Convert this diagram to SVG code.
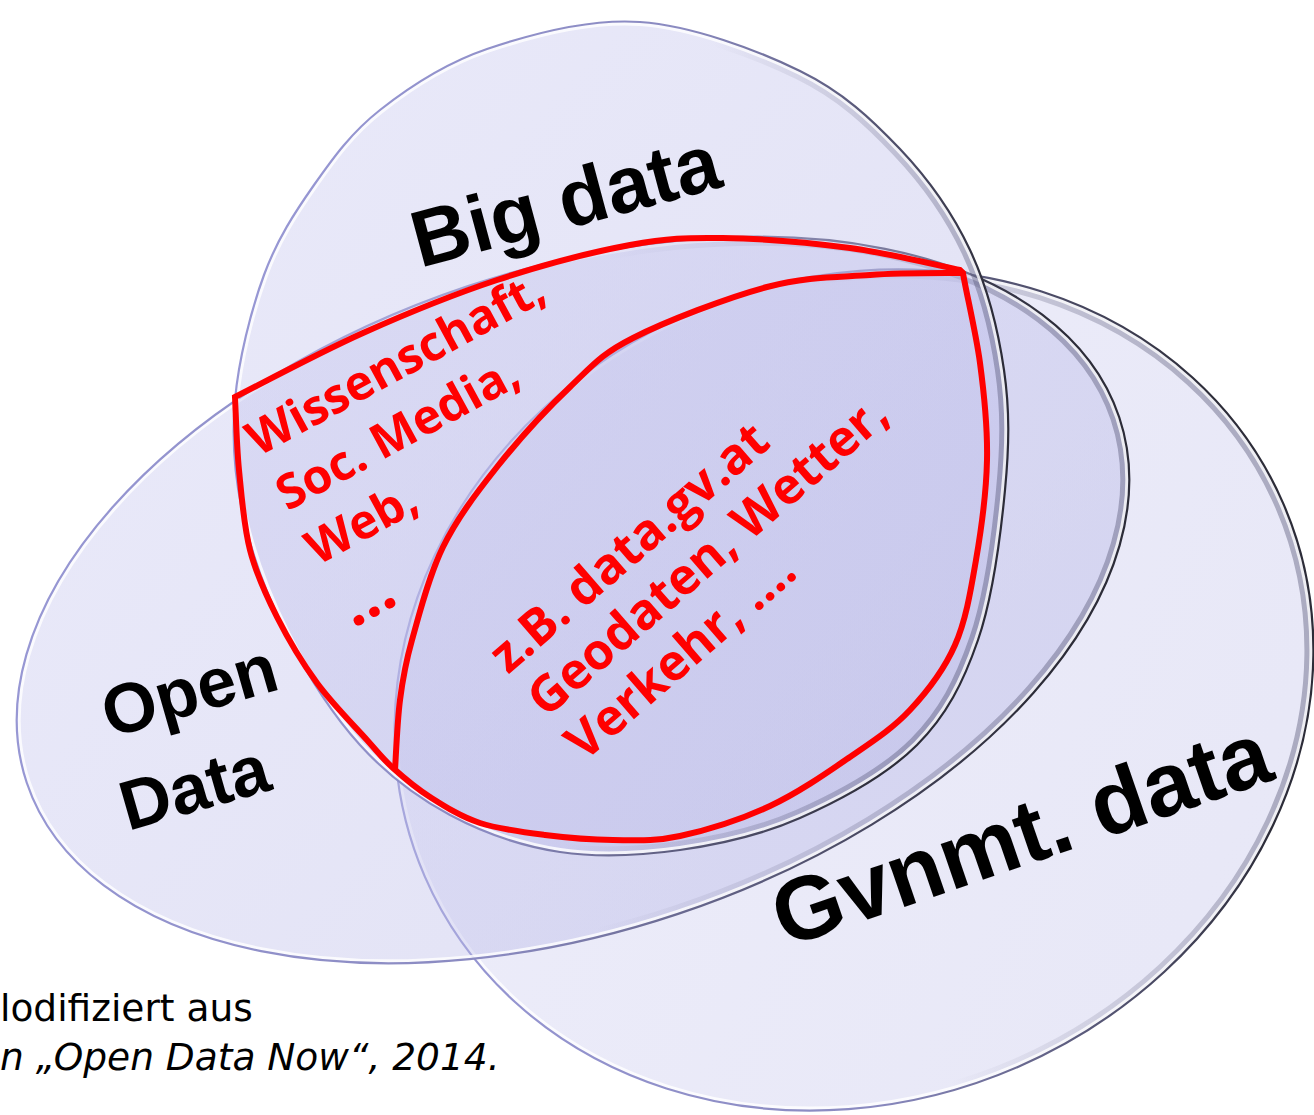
<svg xmlns="http://www.w3.org/2000/svg" xmlns:xlink="http://www.w3.org/1999/xlink" width="1314" height="1115" viewBox="0 0 1314 1115">
<defs>
<style>
.lens{stroke:none}
.rim{fill:none;stroke:url(#rimGrad);stroke-width:2.2}
.hl{fill:none;stroke:#ffffff;stroke-opacity:.8;stroke-width:8}
.shade{fill:none;stroke:url(#shadeGrad);stroke-width:18}
.lbl{font-family:"Liberation Sans",Arial,sans-serif;font-weight:bold;fill:#000}
.red{font-family:"Open Sans","Noto Sans",sans-serif;font-weight:700;fill:#ff0000}
.redline{fill:none;stroke:#ff0000;stroke-width:6;stroke-linejoin:miter;stroke-miterlimit:10}
.cap{font-family:"DejaVu Sans",sans-serif;font-size:37.5px;fill:#000}
</style>
<linearGradient id="fillGrad" x1="0" y1="0" x2="1" y2="1">
<stop offset="0" stop-color="#c8c8f0"/>
<stop offset="1" stop-color="#b4b4e4"/>
</linearGradient>
<linearGradient id="rimGrad" x1="0" y1="0" x2="1" y2="0.25">
<stop offset="0" stop-color="#9a9ad8"/>
<stop offset="0.55" stop-color="#8a8ac0"/>
<stop offset="1" stop-color="#2c2c38"/>
</linearGradient>
<linearGradient id="shadeGrad" x1="0" y1="0" x2="1" y2="0.2">
<stop offset="0" stop-color="#505070" stop-opacity="0"/>
<stop offset="0.6" stop-color="#505070" stop-opacity="0"/>
<stop offset="1" stop-color="#505070" stop-opacity="0.4"/>
</linearGradient>
<path id="bigShape" d="M640,22 C692.2,25.7 756.7,49.8 800,71 C843.3,92.2 871.7,119.2 900,149 C928.3,178.8 952.7,213.2 970,250 C987.3,286.8 998.2,330 1004,370 C1009.8,410 1009.3,445 1005,490 C1000.7,535 992.7,597.5 978,640 C963.3,682.5 946.7,715.3 917,745 C887.3,774.7 839.5,800.5 800,818 C760.5,835.5 720,844.3 680,850 C640,855.7 598.3,857.8 560,852 C521.7,846.2 483.3,832.8 450,815 C416.7,797.2 387.2,775 360,745 C332.8,715 306.5,673.3 287,635 C267.5,596.7 251.7,554.2 243,515 C234.3,475.8 231.5,440 235,400 C238.5,360 250.8,310.8 264,275 C277.2,239.2 294.7,212.5 314,185 C333.3,157.5 351.2,132.7 380,110 C408.8,87.3 443.7,63.7 487,49 C530.3,34.3 587.8,18.3 640,22 Z"/>
<ellipse id="openShape" cx="573" cy="600" rx="576" ry="331" transform="rotate(-18.5 573 600)"/>
<ellipse id="govShape" cx="854" cy="690" rx="468" ry="411" transform="rotate(-23.5 854 690)"/>
<clipPath id="clipBig"><use xlink:href="#bigShape"/></clipPath>
<clipPath id="clipOpen"><use xlink:href="#openShape"/></clipPath>
<clipPath id="clipGov"><use xlink:href="#govShape"/></clipPath>
</defs>
<rect width="1314" height="1115" fill="#ffffff"/>

<g id="node-gvnmt-data">
<use xlink:href="#govShape" class="lens" fill="url(#fillGrad)" fill-opacity="0.32"/>
<use xlink:href="#govShape" class="shade" clip-path="url(#clipGov)"/>
<use xlink:href="#govShape" class="hl" clip-path="url(#clipGov)"/>
<use xlink:href="#govShape" class="rim"/>
<text class="lbl" font-size="90" transform="translate(785,948) rotate(-19)">Gvnmt. data</text>
</g>

<g id="node-open-data">
<use xlink:href="#openShape" class="lens" fill="url(#fillGrad)" fill-opacity="0.4"/>
<use xlink:href="#openShape" class="shade" clip-path="url(#clipOpen)"/>
<use xlink:href="#openShape" class="hl" clip-path="url(#clipOpen)"/>
<use xlink:href="#openShape" class="rim"/>
<text class="lbl" font-size="70" transform="translate(110,738) rotate(-16)">Open</text>
<text class="lbl" font-size="70" transform="translate(128,831) rotate(-16)">Data</text>
</g>

<g id="node-big-data">
<use xlink:href="#bigShape" class="lens" fill="url(#fillGrad)" fill-opacity="0.4"/>
<use xlink:href="#bigShape" class="shade" clip-path="url(#clipBig)"/>
<use xlink:href="#bigShape" class="hl" clip-path="url(#clipBig)"/>
<use xlink:href="#bigShape" class="rim"/>
<text class="lbl" font-size="80" transform="translate(420,268) rotate(-15)">Big data</text>
</g>

<g id="connectors"></g>

<g id="region-big-open">
<path class="redline" d="M235,397 C256.3,386.3 319.3,352.5 363,333 C406.7,313.5 452.5,294.7 497,280 C541.5,265.3 592.3,252 630,245 C667.7,238 686.3,237.5 723,238 C759.7,238.5 810.5,242.7 850,248 C889.5,253.3 941.7,266.3 960,270 L963,273 C965,287.2 975.8,331.7 980,363 C984.2,394.3 987.7,427.2 987,460 C986.3,492.8 981.3,529.2 976,560 C970.7,590.8 966,620 955,645 C944,670 927.5,691.3 910,710 C892.5,728.7 873.3,741 850,757 C826.7,773 798.3,792.8 770,806 C741.7,819.2 706.2,830.3 680,836 C653.8,841.7 635.5,840.2 613,840 C590.5,839.8 567.2,837.8 545,835 C522.8,832.2 499.2,829.3 480,823 C460.8,816.7 444.5,806.2 430,797 C415.5,787.8 403.5,777.5 393,768 C382.5,758.5 379.7,754.2 367,740 C354.3,725.8 332,703.5 317,683 C302,662.5 288.2,639.2 277,617 C265.8,594.8 256.3,574.5 250,550 C243.7,525.5 241.5,495.5 239,470 C236.5,444.5 235.7,409.2 235,397 Z"/>
<text class="red" font-size="48" transform="translate(258,457) rotate(-28.5)"><tspan x="0" y="0">Wissenschaft,</tspan><tspan x="0" y="62">Soc. Media,</tspan><tspan x="0" y="124">Web,</tspan><tspan x="2" y="196" font-size="62">…</tspan></text>
</g>

<g id="region-big-open-gvnmt">
<path class="redline" d="M395,770 C395.8,758.3 397.2,721.7 400,700 C402.8,678.3 404.8,665.5 412,640 C419.2,614.5 428.8,575.8 443,547 C457.2,518.2 475.8,493.7 497,467 C518.2,440.3 547.3,408.5 570,387 C592.7,365.5 600.2,354.7 633,338 C665.8,321.3 727.5,297.5 767,287 C806.5,276.5 837.3,277.3 870,275 C902.7,272.7 947.5,273.3 963,273"/>
<text class="red" font-size="50" transform="translate(508,675) rotate(-41)"><tspan x="0" y="0">z.B. data.gv.at</tspan><tspan x="0" y="58">Geodaten, Wetter,</tspan><tspan x="0" y="116">Verkehr, ….</tspan></text>
</g>

<g id="caption">
<text class="cap" x="0" y="1021">lodifiziert aus</text>
<text class="cap" x="0" y="1070" font-style="italic">n „Open Data Now“, 2014.</text>
</g>
</svg>
